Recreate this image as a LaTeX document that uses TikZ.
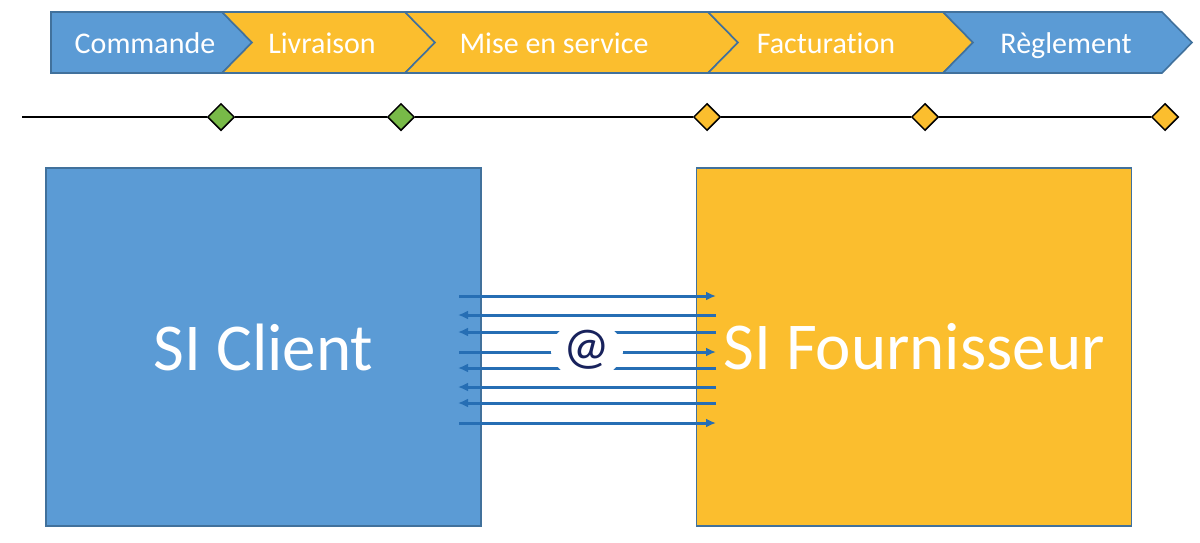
\documentclass[tikz,border=0pt]{standalone}
\usepackage{fontspec}
\setmainfont{Carlito}[Ligatures=NoCommon]
\usetikzlibrary{arrows.meta,shapes.geometric}
\definecolor{ofblue}{RGB}{91,155,213}
\definecolor{ofyellow}{RGB}{251,190,46}
\definecolor{ofedge}{RGB}{65,113,156}
\definecolor{ofgreen}{RGB}{120,186,72}
\definecolor{ofline}{RGB}{38,110,180}
\definecolor{ofnavy}{RGB}{24,34,92}
\tikzset{
  chevblue/.style={fill=ofblue,draw=ofedge,line width=1.6pt,line join=miter},
  chevyellow/.style={fill=ofyellow,draw=ofedge,line width=1.6pt,line join=miter},
  chevtext/.style={text=white,font=\fontsize{30}{34}\selectfont,inner sep=0pt,anchor=base},
  milestone/.style={diamond,draw=black,line width=1.5pt,minimum width=27pt,minimum height=27pt,inner sep=0pt},
  bigbox/.style={draw=ofedge,line width=1.6pt,minimum width=435pt,minimum height=358pt,inner sep=0pt,text=white,font=\fontsize{67}{70}\selectfont},
  flow/.style={draw=ofline,line width=3pt,-{Latex[length=10pt,width=9pt]}},
}
\begin{document}
\begin{tikzpicture}[x=1pt,y=-1pt]
\useasboundingbox (0,0) rectangle (1200,542);

% process chevrons
\filldraw[chevblue] (51,12) -- (222,12) -- (252,42.5) -- (222,73) -- (51,73) -- cycle;
\filldraw[chevyellow] (222,12) -- (405,12) -- (435,42.5) -- (405,73) -- (222,73) -- (252,42.5) -- cycle;
\filldraw[chevyellow] (405,12) -- (708,12) -- (738,42.5) -- (708,73) -- (405,73) -- (435,42.5) -- cycle;
\filldraw[chevyellow] (708,12) -- (943,12) -- (973,42.5) -- (943,73) -- (708,73) -- (738,42.5) -- cycle;
\filldraw[chevblue] (943,12) -- (1162,12) -- (1192,42.5) -- (1162,73) -- (943,73) -- (973,42.5) -- cycle;
\node[chevtext] (t1) at (145,53) {Commande};
\node[chevtext] (t2) at (322,53) {Livraison};
\node[chevtext] (t3) at (554,53) {Mise en service};
\node[chevtext] (t4) at (826,53) {Facturation};
\node[chevtext] (t5) at (1066,53) {Règlement};

% timeline with milestones
\coordinate (tstart) at (22,117);
\node[milestone,fill=ofgreen] (m1) at (221,117) {};
\node[milestone,fill=ofgreen] (m2) at (401,117) {};
\node[milestone,fill=ofyellow] (m3) at (707,117) {};
\node[milestone,fill=ofyellow] (m4) at (925,117) {};
\node[milestone,fill=ofyellow] (m5) at (1165,117) {};
\begin{scope}[line width=1.5pt]
\draw (tstart) -- (m1) -- (m2) -- (m3) -- (m4) -- (m5);
\end{scope}

% information systems
\node[bigbox,fill=ofblue] (client) at (263.5,347) {SI Client};
\node[bigbox,fill=ofyellow] (fourn) at (914,347) {SI Fournisseur};

% exchanged flows: client to supplier
\foreach \y in {296,352,423}{
  \coordinate (L\y) at (459,\y);
  \coordinate (R\y) at (716,\y);
  \draw[flow] (L\y) -- (R\y);
}
% exchanged flows: supplier to client
\foreach \y in {315,332,368,387,403}{
  \coordinate (L\y) at (458,\y);
  \coordinate (R\y) at (716,\y);
  \draw[flow] (R\y) -- (L\y);
}
\node[ellipse,fill=white,minimum width=72pt,minimum height=58pt,inner sep=0pt,text=ofnavy,font=\fontsize{52}{54}\selectfont] (at) at (587,350) {@};
\end{tikzpicture}
\end{document}
